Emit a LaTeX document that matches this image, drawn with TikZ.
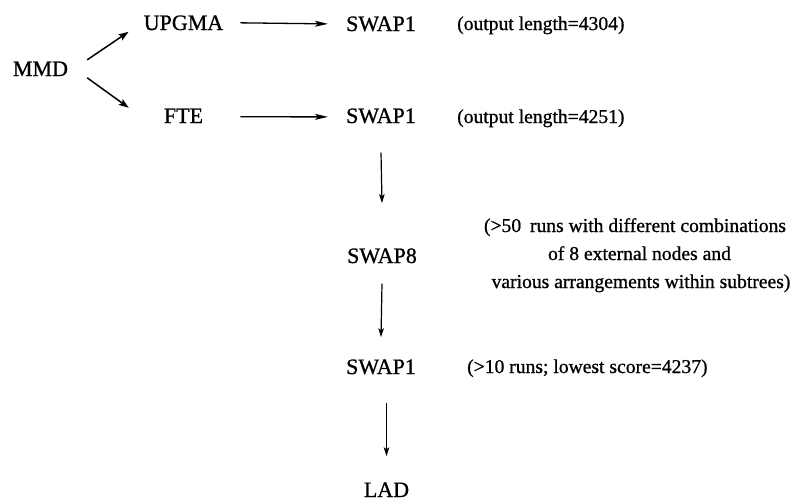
\documentclass[tikz,border=0pt]{standalone}
\usepackage{fontspec}
\setmainfont{Liberation Serif}[FakeBold=0.9]
\usetikzlibrary{arrows.meta}
\begin{document}
\begin{tikzpicture}[x=1pt,y=-1pt,
  stage/.style={inner sep=0pt,anchor=base,font=\rmfamily\fontsize{22}{26}\selectfont},
  note/.style={inner sep=0pt,anchor=base west,font=\rmfamily\fontsize{19.6}{28}\selectfont},
  flow/.style={line width=1.3pt,-{Stealth[length=13pt,width=6pt,inset=3pt]}},
  fork/.style={line width=1.5pt,-{Stealth[length=10pt,width=7pt,inset=2pt]}},
  down/.style={line width=1.2pt,-{Stealth[length=9pt,width=5.5pt,inset=2pt]}}]
\useasboundingbox (0,0) rectangle (795,501);

% stages of the search
\node[stage] (mmd)    at (40.5,76)  {MMD};
\node[stage] (upgma)  at (183.5,30) {UPGMA};
\node[stage] (fte)    at (183.5,123){FTE};
\node[stage] (swapa)  at (381,31)   {SWAP1};
\node[stage] (swapb)  at (381,123)  {SWAP1};
\node[stage] (swapc)  at (382,263)  {SWAP8};
\node[stage] (swapd)  at (381,374)  {SWAP1};
\node[stage] (lad)    at (386.5,497){LAD};

% remarks
\node[note] (na) at (457,30)  {(output length=4304)};
\node[note] (nb) at (457,123) {(output length=4251)};
\node[note,anchor=base,align=center] (nc) at (635,288)
  {(>50\hspace{0.45em}runs with different combinations\\
   \hspace{9pt}of 8 external nodes and\\
   \hspace{12pt}various arrangements within subtrees)};
\node[note] (nd) at (467,373) {(>10 runs; lowest score=4237)};

% connectors
\draw[fork] ([shift={(19,-9)}]mmd.east) -- ([shift={(-15,9)}]upgma.west);
\draw[fork] ([shift={(19,9)}]mmd.east)  -- ([shift={(-35,-8)}]fte.west);
\draw[flow] ([xshift=17pt]upgma.east) -- ([xshift=-18pt]swapa.west);
\draw[flow] ([xshift=37pt,yshift=-1pt]fte.east) -- ([xshift=-18pt,yshift=-1pt]swapb.west);
\draw[down] ([yshift=-29pt]swapb.south) -- ([yshift=45pt]swapc.north);
\draw[down] ([yshift=-20pt]swapc.south) -- ([yshift=22pt]swapd.north);
\draw[down] ([yshift=-28pt]swapd.south -| lad.south) -- ([yshift=26pt]lad.north);
\end{tikzpicture}
\end{document}
